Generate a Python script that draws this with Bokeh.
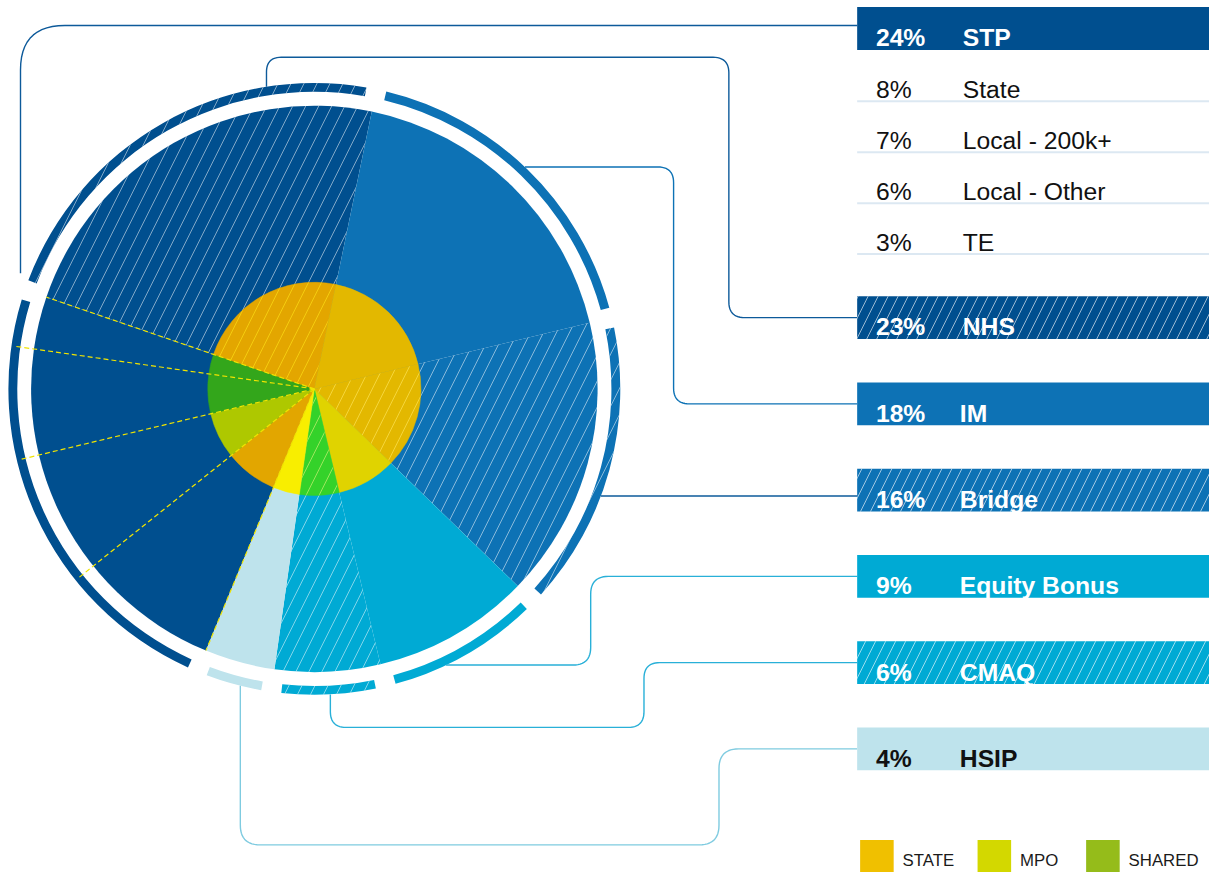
import math
import numpy as np
from bokeh.plotting import figure
from bokeh.models import Range1d
from bokeh.embed import file_html
from bokeh.resources import INLINE
from bokeh.core.properties import value

# ---------------- data ----------------
categories = ["STP", "NHS", "IM", "Bridge", "Equity Bonus", "CMAQ", "HSIP"]
shares = [24, 23, 18, 16, 9, 6, 4]
stp_parts = ["State", "Local - 200k+", "Local - Other", "TE"]
stp_shares = [8, 7, 6, 3]
legend_labels = ["STATE", "MPO", "SHARED"]

# ---------------- styles ----------------
FONT = value("Liberation Sans")
outer_color = {"STP": "#004f8f", "NHS": "#004f8f", "IM": "#0d72b5", "Bridge": "#0d72b5",
               "Equity Bonus": "#00aad4", "CMAQ": "#00aad4", "HSIP": "#bee3ec"}
hatched = {"NHS", "Bridge", "CMAQ"}
inner_color = {"NHS": "#e3a600", "IM": "#e3b800", "Bridge": "#e3b800", "Equity Bonus": "#e0d300",
               "CMAQ": "#34d22a", "HSIP": "#f8ee00", "State": "#e2a600", "Local - 200k+": "#aec800",
               "Local - Other": "#33a61b", "TE": "#33a61b"}
inner_hatch = {"NHS": "#f6cf10", "Bridge": "#f6d840", "CMAQ": "#a6e860"}
leader_color = {"STP": "#0d5a9a", "NHS": "#0d5a9a", "IM": "#0d72b5", "Bridge": "#0d5a9a",
                "Equity Bonus": "#29b0d8", "CMAQ": "#29b0d8", "HSIP": "#7fcbe0"}
legend_colors = ["#f0c000", "#d3d800", "#95bc1a"]

W, H = 1209, 872
REF_W = 1225.0
SC = W / REF_W                 # pixels per layout unit
TOP = 888.0 - H / SC           # layout y shown at the top edge
CX, CY = 318.0, 398.0          # layout coords of pie centre (y down)
R_OUT, R_IN = 287.0, 108.0
RING_IN, RING_OUT = 301.0, 310.0
START = 202.5                  # clockwise-from-top angle where STP begins
GAP = 3.8
PIE_HATCH = dict(hatch_pattern="/", hatch_color="white", hatch_alpha=0.5, hatch_scale=26, hatch_weight=1)
BAR_HATCH = dict(hatch_pattern="/", hatch_color="white", hatch_alpha=0.6, hatch_scale=20, hatch_weight=1)


def fs(px):
    return f"{px * SC:.1f}px"


def Y(ys):
    return 888.0 - np.asarray(ys, dtype=float)


def bk(theta):
    """clockwise-from-top degrees -> bokeh radians (anticlockwise from +x)"""
    return math.radians(90.0 - theta)


def pt(theta, r):
    t = math.radians(theta)
    return (CX + r * math.sin(t), CY - r * math.cos(t))


p = figure(width=W, height=H, x_range=Range1d(0, REF_W), y_range=Range1d(0, 888.0 - TOP),
           output_backend="svg", toolbar_location=None, min_border=0)
p.axis.visible = False
p.grid.visible = False
p.outline_line_color = None
p.background_fill_color = "white"
p.border_fill_color = "white"

# slice angles
bounds = {}
a = START
for c, v in zip(categories, shares):
    bounds[c] = (a, a + v * 3.6)
    a += v * 3.6
sub_bounds = {}
a = START
for c, v in zip(stp_parts, stp_shares):
    sub_bounds[c] = (a, a + v * 3.6)
    a += v * 3.6

# outer pie
for c in categories:
    t1, t2 = bounds[c]
    kw = PIE_HATCH if c in hatched else {}
    p.wedge(x=CX, y=Y(CY), radius=R_OUT, start_angle=bk(t2), end_angle=bk(t1),
            fill_color=outer_color[c], line_color=None, **kw)

# outer ring
for c in categories:
    t1, t2 = bounds[c]
    kw = PIE_HATCH if c in hatched else {}
    p.annular_wedge(x=CX, y=Y(CY), inner_radius=RING_IN, outer_radius=RING_OUT,
                    start_angle=bk(t2 - GAP / 2), end_angle=bk(t1 + GAP / 2),
                    fill_color=outer_color[c], line_color=None, **kw)

# inner pie
inner_segments = [(c, sub_bounds[c]) for c in stp_parts] + [(c, bounds[c]) for c in categories[1:]]
for c, (t1, t2) in inner_segments:
    kw = {}
    if c in inner_hatch:
        kw = dict(hatch_pattern="/", hatch_color=inner_hatch[c], hatch_alpha=0.9, hatch_scale=26, hatch_weight=1)
    p.wedge(x=CX, y=Y(CY), radius=R_IN, start_angle=bk(t2), end_angle=bk(t1),
            fill_color=inner_color[c], line_color=inner_color[c], line_width=0.5, **kw)

# yellow dashed STP subdivisions
dash_angles = [sub_bounds[c][0] for c in stp_parts] + [sub_bounds["TE"][1]]
for i, t in enumerate(dash_angles):
    r_end = R_OUT if i in (0, len(dash_angles) - 1) else RING_OUT - 2
    x2, y2 = pt(t, r_end)
    p.line([CX, x2], Y([CY, y2]), line_color="#f0e400", line_width=1.2, line_dash="5 3")

# ---------------- labels on the right ----------------
BAR_X0, BAR_X1 = 868.0, 1235.0
bar_top = {"STP": 11.0}
for i, c in enumerate(categories[1:]):
    bar_top[c] = 304.0 + 87.4 * i
BAR_H = 43.5
bar_mid = {c: bar_top[c] + BAR_H / 2 for c in categories}


def rounded(points, r, n=14):
    out = [points[0]]
    for i in range(1, len(points) - 1):
        p0 = np.array(points[i - 1], float)
        p1 = np.array(points[i], float)
        p2 = np.array(points[i + 1], float)
        d1 = p1 - p0
        l1 = np.hypot(*d1)
        d1 /= l1
        d2 = p2 - p1
        l2 = np.hypot(*d2)
        d2 /= l2
        rr = min(r, l1 / 2, l2 / 2)
        qa = p1 - d1 * rr
        qb = p1 + d2 * rr
        for t in np.linspace(0, 1, n):
            q = (1 - t) ** 2 * qa + 2 * (1 - t) * t * p1 + t ** 2 * qb
            out.append(tuple(q))
    out.append(points[-1])
    return out


routes = {}
ax, ay = pt(291.5, 320)
routes["STP"] = rounded([(ax, ay), (ax, bar_mid["STP"] - 3), (BAR_X0, bar_mid["STP"] - 3)], 45)
ax, ay = pt(351, RING_OUT)
routes["NHS"] = rounded([(ax, ay), (ax, 62), (738, 62), (738, bar_mid["NHS"]), (BAR_X0, bar_mid["NHS"])], 16)
ax, ay = pt(43.5, RING_OUT)
routes["IM"] = rounded([(ax, ay), (682, ay), (682, bar_mid["IM"]), (BAR_X0, bar_mid["IM"])], 16)
by = bar_mid["Bridge"] + 6
tb = 90 + math.degrees(math.asin((by - CY) / RING_OUT))
ax, ay = pt(tb, RING_OUT)
routes["Bridge"] = [(ax, ay), (BAR_X0, ay)]
ax, ay = pt(154.5, RING_OUT)
routes["Equity Bonus"] = rounded([(ax, ay), (598, ay), (598, bar_mid["Equity Bonus"]),
                                  (BAR_X0, bar_mid["Equity Bonus"])], 18)
ax, ay = pt(177, RING_OUT)
routes["CMAQ"] = rounded([(ax, ay), (ax, 741), (652, 741), (652, bar_mid["CMAQ"]), (BAR_X0, bar_mid["CMAQ"])], 16)
ax, ay = pt(194, RING_OUT)
routes["HSIP"] = rounded([(ax, ay), (ax, 860), (728, 860), (728, bar_mid["HSIP"]), (BAR_X0, bar_mid["HSIP"])], 20)

for c in categories:
    xs = [q[0] for q in routes[c]]
    ys = [q[1] for q in routes[c]]
    p.line(xs, Y(ys), line_color=leader_color[c], line_width=1.4)

# bars
for c in categories:
    kw = BAR_HATCH if c in hatched else {}
    p.quad(left=BAR_X0, right=BAR_X1, top=Y(bar_top[c]), bottom=Y(bar_top[c] + BAR_H),
           fill_color=outer_color[c], line_color=None, **kw)
    tc = "#111111" if c == "HSIP" else "white"
    base = bar_mid[c] + 9.5
    p.text(x=[887], y=Y([base]), text=[f"{shares[categories.index(c)]}%"], text_font=FONT,
           text_font_size=fs(25), text_font_style="bold", text_color=tc, text_baseline="alphabetic")
    lx = 975 if c in ("STP", "NHS") else 972
    p.text(x=[lx], y=Y([base]), text=[c], text_font=FONT,
           text_font_size=fs(25), text_font_style="bold", text_color=tc, text_baseline="alphabetic")

# STP breakdown rows
ROW0, ROW_H = 55.0, 51.6
for i, (c, v) in enumerate(zip(stp_parts, stp_shares)):
    top = ROW0 + ROW_H * i
    base = top + 39.5
    p.text(x=[887], y=Y([base]), text=[f"{v}%"], text_font=FONT, text_font_size=fs(25),
           text_color="#111111", text_baseline="alphabetic")
    p.text(x=[975], y=Y([base]), text=[c], text_font=FONT, text_font_size=fs(25),
           text_color="#111111", text_baseline="alphabetic")
    p.line([BAR_X0, BAR_X1], Y([top + ROW_H, top + ROW_H]), line_color="#dce8f2", line_width=2)

# legend
leg_x = [871, 990, 1100]
for lx, lab, col in zip(leg_x, legend_labels, legend_colors):
    p.quad(left=lx, right=lx + 34, top=Y(855), bottom=Y(892), fill_color=col, line_color=None)
    p.text(x=[lx + 43], y=Y([876]), text=[lab], text_font=FONT, text_font_size=fs(17),
           text_color="#1a1a1a", text_baseline="alphabetic")

open("out.html", "w").write(file_html(p, INLINE))
